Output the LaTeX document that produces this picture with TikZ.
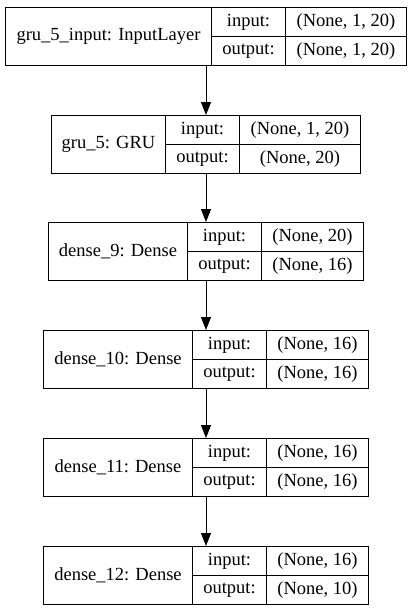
\documentclass[tikz,border=0pt]{standalone}
\usepackage{fontspec}
\setmainfont{Liberation Serif}
\usetikzlibrary{arrows.meta}

\tikzset{cell/.style={draw, line width=1pt, inner sep=0pt, anchor=north west, font=\fontsize{18.5}{22}\selectfont}}

\begin{document}
\begin{tikzpicture}[>={Triangle[length=13pt,width=10pt]},x=1pt,y=-1pt]
\useasboundingbox (0,0) rectangle (411,611);

%the layers: left, dividers, right, top
    \foreach \i/\xa/\xb/\xc/\xd/\t/\lname/\inp/\outp in {
    1/5/211/285/406/7/{gru\_5\_input: InputLayer}/{(None, 1, 20)}/{(None, 1, 20)},
    2/51/165/239/360/115/{gru\_5: GRU}/{(None, 1, 20)}/{(None, 20)},
    3/48/187/261/363/222/{dense\_9: Dense}/{(None, 20)}/{(None, 16)},
    4/43/192/266/368/330/{dense\_10: Dense}/{(None, 16)}/{(None, 16)},
    5/43/192/266/368/438/{dense\_11: Dense}/{(None, 16)}/{(None, 16)},
    6/43/192/266/368/546/{dense\_12: Dense}/{(None, 16)}/{(None, 10)}}    {
    \node[cell, minimum width={(\xd-\xa)*1pt}, minimum height=58pt] (box\i) at (\xa,\t) {};
    \node[cell, minimum width={(\xb-\xa)*1pt}, minimum height=58pt] (name\i) at (\xa,\t) {\lname};
    \node[cell, minimum width={(\xc-\xb)*1pt}, minimum height=29pt] (inl\i) at (\xb,\t) {input:};
    \node[cell, minimum width={(\xc-\xb)*1pt}, minimum height=29pt] (outl\i) at (\xb,\t+29) {output:};
    \node[cell, minimum width={(\xd-\xc)*1pt}, minimum height=29pt] (inv\i) at (\xc,\t) {\inp};
    \node[cell, minimum width={(\xd-\xc)*1pt}, minimum height=29pt] (outv\i) at (\xc,\t+29) {\outp};    }

% the arrows
    \foreach \i/\j in {1/2,2/3,3/4,4/5,5/6}
    \draw[->, line width=1pt] (box\i) -- (box\j);
\end{tikzpicture}
\end{document}
